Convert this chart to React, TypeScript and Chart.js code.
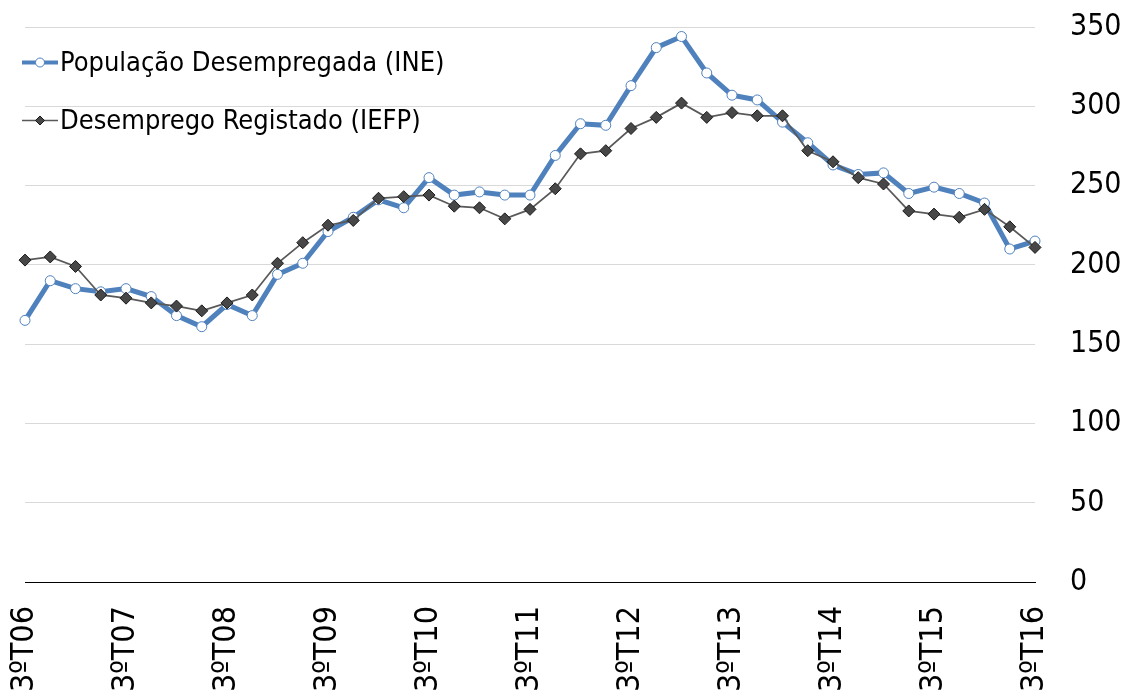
import React, { useEffect, useRef } from "react";
import { Chart, registerables } from "chart.js";

Chart.register(...registerables);

const categories = [
  "3ºT06", "4ºT06", "1ºT07", "2ºT07", "3ºT07", "4ºT07", "1ºT08", "2ºT08", "3ºT08", "4ºT08",
  "1ºT09", "2ºT09", "3ºT09", "4ºT09", "1ºT10", "2ºT10", "3ºT10", "4ºT10", "1ºT11", "2ºT11",
  "3ºT11", "4ºT11", "1ºT12", "2ºT12", "3ºT12", "4ºT12", "1ºT13", "2ºT13", "3ºT13", "4ºT13",
  "1ºT14", "2ºT14", "3ºT14", "4ºT14", "1ºT15", "2ºT15", "3ºT15", "4ºT15", "1ºT16", "2ºT16",
  "3ºT16",
];

const populacaoDesempregadaINE = [
  165, 190, 185, 183, 185, 180, 168, 161, 175, 168,
  194, 201, 221, 230, 241, 236, 255, 244, 246, 244,
  244, 269, 289, 288, 313, 337, 344, 321, 307, 304,
  290, 277, 263, 257, 258, 245, 249, 245, 239, 210,
  215,
];

const desempregoRegistadoIEFP = [
  203, 205, 199, 181, 179, 176, 174, 171, 176, 181,
  201, 214, 225, 228, 242, 243, 244, 237, 236, 229,
  235, 248, 270, 272, 286, 293, 302, 293, 296, 294,
  294, 272, 265, 255, 251, 234, 232, 230, 235, 224,
  211,
];

const yMin = 0;
const yMax = 350;
const yStep = 50;

const FONT = '"Liberation Sans Narrow", "DejaVu Sans Condensed", "Roboto Condensed", "Liberation Sans", sans-serif';

const insideLegend = {
  id: "insideLegend",
  afterDraw(chart: any) {
    const ctx = chart.ctx;
    const rows = [62.5, 120.5];
    chart.data.datasets.forEach((ds: any, i: number) => {
      const y = rows[i];
      ctx.save();
      ctx.strokeStyle = ds.borderColor;
      ctx.lineWidth = i === 0 ? 4 : 1.5;
      ctx.beginPath();
      ctx.moveTo(22, y);
      ctx.lineTo(58, y);
      ctx.stroke();
      ctx.fillStyle = ds.pointBackgroundColor;
      ctx.strokeStyle = ds.pointBorderColor;
      ctx.lineWidth = 1;
      ctx.beginPath();
      if (ds.pointStyle === "rectRot") {
        const r = 4.5;
        ctx.moveTo(40, y - r);
        ctx.lineTo(40 + r, y);
        ctx.lineTo(40, y + r);
        ctx.lineTo(40 - r, y);
        ctx.closePath();
      } else {
        ctx.arc(40, y, 4.5, 0, Math.PI * 2);
      }
      ctx.fill();
      ctx.stroke();
      ctx.fillStyle = "#000";
      ctx.font = `27px ${FONT}`;
      ctx.textAlign = "left";
      ctx.textBaseline = "alphabetic";
      ctx.fillText(ds.label, 60, y + 8.5);
      ctx.restore();
    });
  },
};

export default function App() {
  const ref = useRef<HTMLCanvasElement | null>(null);

  useEffect(() => {
    document.body.style.margin = "0";
    const canvas = ref.current;
    if (!canvas) return;
    const chart = new Chart(canvas, {
      type: "line",
      data: {
        labels: categories,
        datasets: [
          {
            label: "População Desempregada (INE)",
            data: populacaoDesempregadaINE,
            borderColor: "#4f81bd",
            borderWidth: 5,
            pointStyle: "circle",
            pointRadius: 5,
            pointBackgroundColor: "#ffffff",
            pointBorderColor: "#4f81bd",
            pointBorderWidth: 1,
            tension: 0,
            order: 1,
          },
          {
            label: "Desemprego Registado (IEFP)",
            data: desempregoRegistadoIEFP,
            borderColor: "#595959",
            borderWidth: 1.75,
            pointStyle: "rectRot",
            pointRadius: 6,
            pointBackgroundColor: "#474747",
            pointBorderColor: "#1a1a1a",
            pointBorderWidth: 1,
            tension: 0,
            order: 0,
          },
        ],
      },
      options: {
        responsive: false,
        animation: false,
        layout: { padding: { left: 25, top: 27, right: 0, bottom: 0 } },
        plugins: {
          legend: { display: false },
          tooltip: { enabled: false },
        },
        scales: {
          x: {
            type: "category",
            offset: false,
            grid: { display: false, drawTicks: false },
            border: { display: true, color: "#000000", width: 1 },
            ticks: {
              autoSkip: false,
              minRotation: 90,
              maxRotation: 90,
              padding: 24,
              color: "#000000",
              font: { family: FONT, size: 32 },
              callback: (_v: any, index: number) => (index % 4 === 0 ? categories[index] : ""),
            },
            afterFit: (scale: any) => {
              scale.height = 138;
            },
          },
          y: {
            position: "right",
            min: yMin,
            max: yMax,
            border: { display: false },
            grid: {
              drawTicks: true,
              tickLength: 32,
              tickColor: "rgba(0,0,0,0)",
              lineWidth: 1,
              color: (c: any) => (c.tick && c.tick.value === 0 ? "#000000" : "#d9d9d9"),
            },
            ticks: {
              stepSize: yStep,
              padding: 3,
              color: "#000000",
              font: { family: FONT, size: 30 },
            },
            afterFit: (scale: any) => {
              scale.width = 92;
            },
          },
        },
      },
      plugins: [insideLegend],
    });
    return () => chart.destroy();
  }, []);

  return (
    <div style={{ width: 1127, height: 690, overflow: "hidden", position: "relative" }}>
      <canvas ref={ref} width={1127} height={720} style={{ display: "block" }} />
    </div>
  );
}
